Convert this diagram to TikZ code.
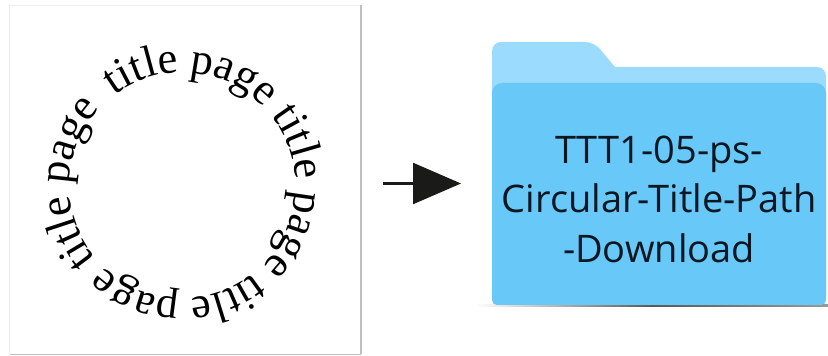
\documentclass[tikz,border=0pt]{standalone}
\usepackage{fontspec}
\usetikzlibrary{decorations.text,arrows.meta,calc}
\newfontfamily\ringfont{Liberation Serif}
\newfontfamily\folderfont{Open Sans}
\definecolor{folderback}{HTML}{9BDCFE}
\definecolor{folderfront}{HTML}{68C9F8}
\definecolor{inkdark}{HTML}{1A1A18}
\definecolor{labelink}{HTML}{0A1622}
\tikzset{
  cardedge/.style={line width=1.2pt,draw=black!25},
  cardedgelight/.style={line width=0.8pt,draw=black!7},
  folderlabel/.style={font=\folderfont\fontsize{38}{49.5}\selectfont,text=labelink,align=center,inner sep=0pt},
  arrowstyle/.style={line width=2.4pt,draw=inkdark,-{Triangle[length=48pt,width=41pt,fill=inkdark]}},
}
\begin{document}
\begin{tikzpicture}[x=1pt,y=1pt]
\useasboundingbox (0,0) rectangle (828,356);
\fill[white] (0,0) rectangle (828,356);
% page card
\draw[cardedgelight] (9.5,1.5) -- (9.5,351);
\draw[cardedgelight] (9.5,351) -- (361,351);
\draw[cardedge] (361,351) -- (361,1.5);
\draw[cardedge] (9.5,1.5) -- (361,1.5);
% circular text
\coordinate (ringcentre) at (182.5,170.5);
\path[decorate,decoration={text along path,text align=left,
  text={|\ringfont\fontsize{44.5}{44.5}\selectfont|title page title page title page title page }}]
  ([shift={(127:113pt)}]ringcentre) arc[start angle=127,delta angle=-359.9,radius=113pt];
% folder
\shade[left color=white,right color=black!40,middle color=black!65] (475,49.5) rectangle (828,51.5);
\fill[folderback] (492,60) [rounded corners=9pt] -- (492,314) -- (594,314) [sharp corners] -- (615,289) [rounded corners=9pt] -- (826,289) [sharp corners] -- (826,60) -- cycle;
\fill[folderfront] (492,60) [rounded corners=10pt] -- (492,273) -- (826,273) [rounded corners=5pt] -- (826,51) -- (492,51) [sharp corners] -- cycle;
\node[folderlabel,anchor=center] (label) at (659,157) {TTT1-05-ps-\\Circular-Title-Path\\-Download};
% arrow
\coordinate (arrowtail) at (383,172.5);
\coordinate (arrowtip) at (461,172.5);
\draw[arrowstyle] (arrowtail) -- (arrowtip);
\end{tikzpicture}
\end{document}
